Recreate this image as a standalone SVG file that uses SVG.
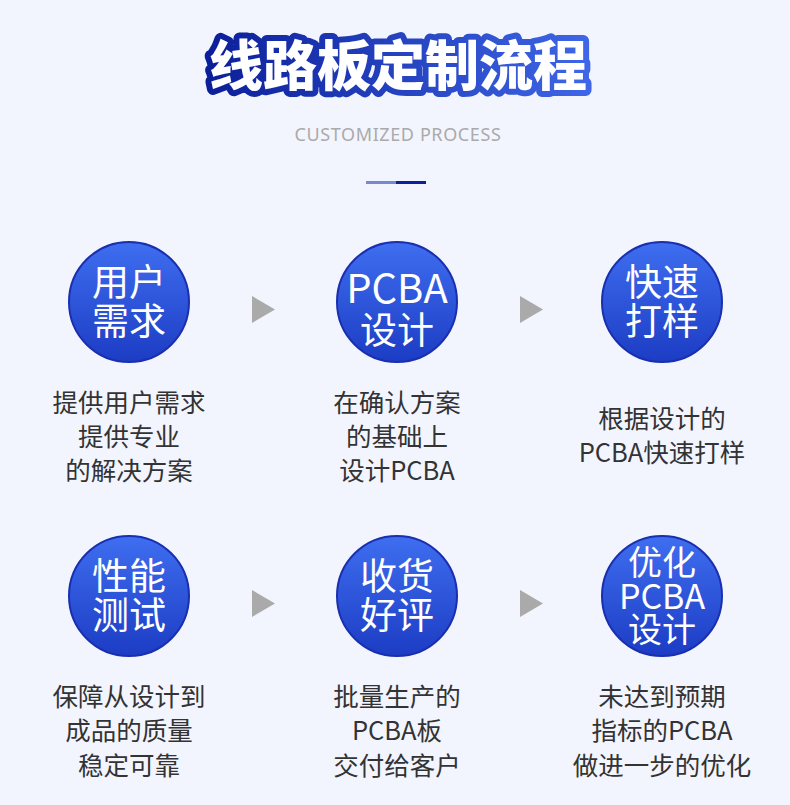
<svg xmlns="http://www.w3.org/2000/svg" width="790" height="805" viewBox="0 0 790 805">
<defs>
<linearGradient id="cg" x1="0" y1="0" x2="0" y2="1">
<stop offset="0" stop-color="#3f6ef0"/>
<stop offset="1" stop-color="#1c3cc4"/>
</linearGradient>
<linearGradient id="tg" x1="0" y1="0" x2="1" y2="0">
<stop offset="0" stop-color="#0c1f9a"/>
<stop offset="1" stop-color="#3e66e6"/>
</linearGradient>
<style>
.c{fill:url(#cg);stroke:#1a2fb0;stroke-width:2}
.ct{font-family:"Noto Sans CJK SC","Noto Sans",sans-serif;font-size:37px;font-weight:400;fill:#fff;text-anchor:middle}
.ctp{font-family:"Noto Sans CJK SC","Noto Sans",sans-serif;font-size:40px;font-weight:400;fill:#fff;text-anchor:middle}
.ct3{font-family:"Noto Sans CJK SC","Noto Sans",sans-serif;font-size:34px;font-weight:400;fill:#fff;text-anchor:middle}
.d{font-family:"Noto Sans CJK SC","Noto Sans",sans-serif;font-size:25.5px;fill:#333;text-anchor:middle}
.arr{fill:#aaaaaa}
</style>
</defs>
<rect width="790" height="805" fill="#f3f5fe"/>
<g id="title">
<text x="398" y="86" font-family="Noto Sans CJK SC,sans-serif" font-weight="900" font-size="54" text-anchor="middle" fill="none" stroke="url(#tg)" stroke-width="12" stroke-linejoin="round">线路板定制流程</text>
<text x="398" y="86" font-family="Noto Sans CJK SC,sans-serif" font-weight="900" font-size="54" text-anchor="middle" fill="#fff">线路板定制流程</text>
<text x="398" y="141" font-family="Noto Sans,sans-serif" font-size="18" letter-spacing="0.6" fill="#aaaaaa" text-anchor="middle">CUSTOMIZED PROCESS</text>
<rect x="366" y="181" width="30" height="3" fill="#7a88d0"/>
<rect x="396" y="181" width="30" height="3" fill="#0c1f9a"/>
</g>
<g id="connectors">
<polygon class="arr" points="252,296 275,309.5 252,323"/>
<polygon class="arr" points="520,296 543,309.5 520,323"/>
<polygon class="arr" points="252,590 275,603.5 252,617"/>
<polygon class="arr" points="520,590 543,603.5 520,617"/>
</g>
<g id="n1">
<circle class="c" cx="129" cy="302" r="60"/>
<text class="ct" x="129" y="296">用户</text>
<text class="ct" x="129" y="335">需求</text>
<text class="d" x="129" y="412">提供用户需求</text>
<text class="d" x="129" y="446">提供专业</text>
<text class="d" x="129" y="480">的解决方案</text>
</g>
<g id="n2">
<circle class="c" cx="397" cy="302" r="60"/>
<text class="ctp" x="397" y="303">PCBA</text>
<text class="ct" x="397" y="344">设计</text>
<text class="d" x="397" y="412">在确认方案</text>
<text class="d" x="397" y="446">的基础上</text>
<text class="d" x="397" y="480">设计PCBA</text>
</g>
<g id="n3">
<circle class="c" cx="662" cy="302" r="60"/>
<text class="ct" x="662" y="296">快速</text>
<text class="ct" x="662" y="335">打样</text>
<text class="d" x="662" y="428">根据设计的</text>
<text class="d" x="662" y="462">PCBA快速打样</text>
</g>
<g id="n4">
<circle class="c" cx="129" cy="596" r="60"/>
<text class="ct" x="129" y="590">性能</text>
<text class="ct" x="129" y="629">测试</text>
<text class="d" x="129" y="706">保障从设计到</text>
<text class="d" x="129" y="740">成品的质量</text>
<text class="d" x="129" y="775">稳定可靠</text>
</g>
<g id="n5">
<circle class="c" cx="397" cy="596" r="60"/>
<text class="ct" x="397" y="590">收货</text>
<text class="ct" x="397" y="629">好评</text>
<text class="d" x="397" y="706">批量生产的</text>
<text class="d" x="397" y="740">PCBA板</text>
<text class="d" x="397" y="775">交付给客户</text>
</g>
<g id="n6">
<circle class="c" cx="662" cy="596" r="60"/>
<text class="ct3" x="662" y="575">优化</text>
<text class="ct3" x="662" y="609">PCBA</text>
<text class="ct3" x="662" y="642">设计</text>
<text class="d" x="662" y="706">未达到预期</text>
<text class="d" x="662" y="740">指标的PCBA</text>
<text class="d" x="662" y="775">做进一步的优化</text>
</g>
</svg>
